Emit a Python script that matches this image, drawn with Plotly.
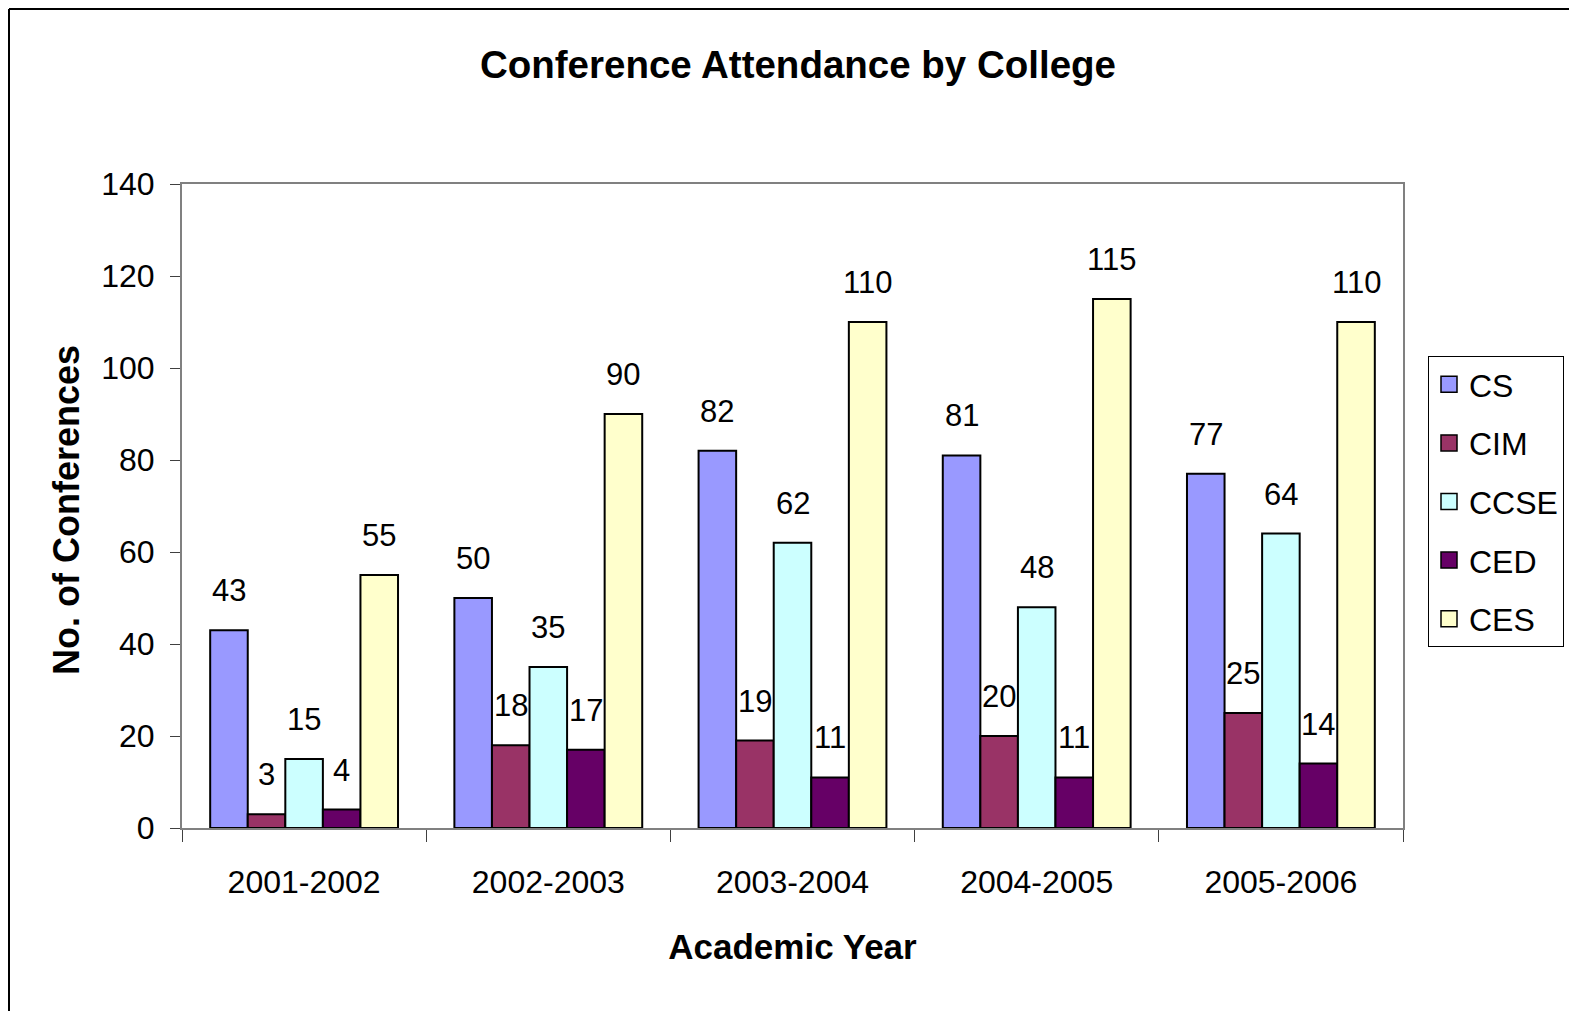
import plotly.graph_objects as go

years = ["2001-2002", "2002-2003", "2003-2004", "2004-2005", "2005-2006"]
series_names = ["CS", "CIM", "CCSE", "CED", "CES"]
cs = [43, 50, 82, 81, 77]
cim = [3, 18, 19, 20, 25]
ccse = [15, 35, 62, 48, 64]
ced = [4, 17, 11, 11, 14]
ces = [55, 90, 110, 115, 110]
colors = ["#9999FF", "#993366", "#CCFFFF", "#660066", "#FFFFCC"]

values = [cs, cim, ccse, ced, ces]
FONT = "Liberation Sans, Arial, sans-serif"

W, H = 1569, 1003
ML, MR, MT, MB = 174, 174, 176, 183
PW = W - ML - MR
PH = H - MT - MB

fig = go.Figure()
bargap = 1.5 / 6.5
n = len(series_names)
barw = (1 - bargap) / n

for j, (name, vals, col) in enumerate(zip(series_names, values, colors)):
    fig.add_trace(go.Bar(
        x=years, y=vals, name=name, showlegend=False,
        marker=dict(color=col, line=dict(color="black", width=2)),
        hoverinfo="x+y+name",
    ))
    # legend proxy
    fig.add_trace(go.Scatter(
        x=[None], y=[None], mode="markers", name=name, legendgroup=name,
        marker=dict(symbol="square", size=21, color=col,
                    line=dict(color="black", width=1.5)),
    ))
    for i, v in enumerate(vals):
        fig.add_annotation(
            x=i + (j - (n - 1) / 2) * barw, y=v, xref="x", yref="y",
            text=str(v), showarrow=False, yanchor="bottom", yshift=20,
            font=dict(family=FONT, size=31, color="black"),
        )

# y-axis title
fig.add_annotation(
    x=(66 - 182) / PW, y=(828 - 510) / PH, xref="paper", yref="paper",
    text="<b>No. of Conferences</b>", textangle=-90, showarrow=False,
    xanchor="center", yanchor="middle",
    font=dict(family=FONT, size=36, color="black"),
)

fig.update_layout(
    width=W, height=H,
    margin=dict(l=ML, r=MR, t=MT, b=MB, autoexpand=False),
    paper_bgcolor="white", plot_bgcolor="white",
    barmode="group", bargap=bargap, bargroupgap=0,
    font=dict(family=FONT, color="black"),
    title=dict(text="<b>Conference Attendance by College</b>",
               x=(790 - ML) / PW, xref="paper", xanchor="center",
               y=1 - 57 / H, yanchor="middle",
               font=dict(family=FONT, size=38.5, color="black")),
    legend=dict(x=(1428 - 182) / PW, y=(828 - 356) / PH,
                xanchor="left", yanchor="top",
                bordercolor="black", borderwidth=1, bgcolor="white",
                font=dict(family=FONT, size=32, color="black"),
                tracegroupgap=14),
    showlegend=True,
)

fig.update_xaxes(
    type="category", tickson="boundaries", ticks="outside", ticklen=12,
    tickcolor="#404040", tickwidth=1,
    showline=True, linecolor="#808080", linewidth=2, mirror=True,
    showgrid=False, zeroline=False,
    tickfont=dict(family=FONT, size=32, color="black"),
    ticklabelstandoff=25,
    title=dict(text="<b>Academic Year</b>", standoff=35,
               font=dict(family=FONT, size=35, color="black")),
)
fig.update_yaxes(
    range=[0, 140], dtick=20, ticks="outside", ticklen=10,
    tickcolor="#404040", tickwidth=1,
    showline=True, linecolor="#808080", linewidth=2, mirror=True,
    showgrid=False, zeroline=False,
    tickfont=dict(family=FONT, size=32, color="black"),
    ticklabelstandoff=9,
)

# outer chart-area border (left and top edges visible)
fig.add_shape(type="line", xref="paper", yref="paper",
              x0=(1 - ML) / PW, x1=(1 - ML) / PW,
              y0=-MB / PH, y1=(PH + MT - 1) / PH,
              line=dict(color="black", width=2))
fig.add_shape(type="line", xref="paper", yref="paper",
              x0=(1 - ML) / PW, x1=(W - ML) / PW,
              y0=(PH + MT - 1) / PH, y1=(PH + MT - 1) / PH,
              line=dict(color="black", width=2))

fig.write_html("out.html")
